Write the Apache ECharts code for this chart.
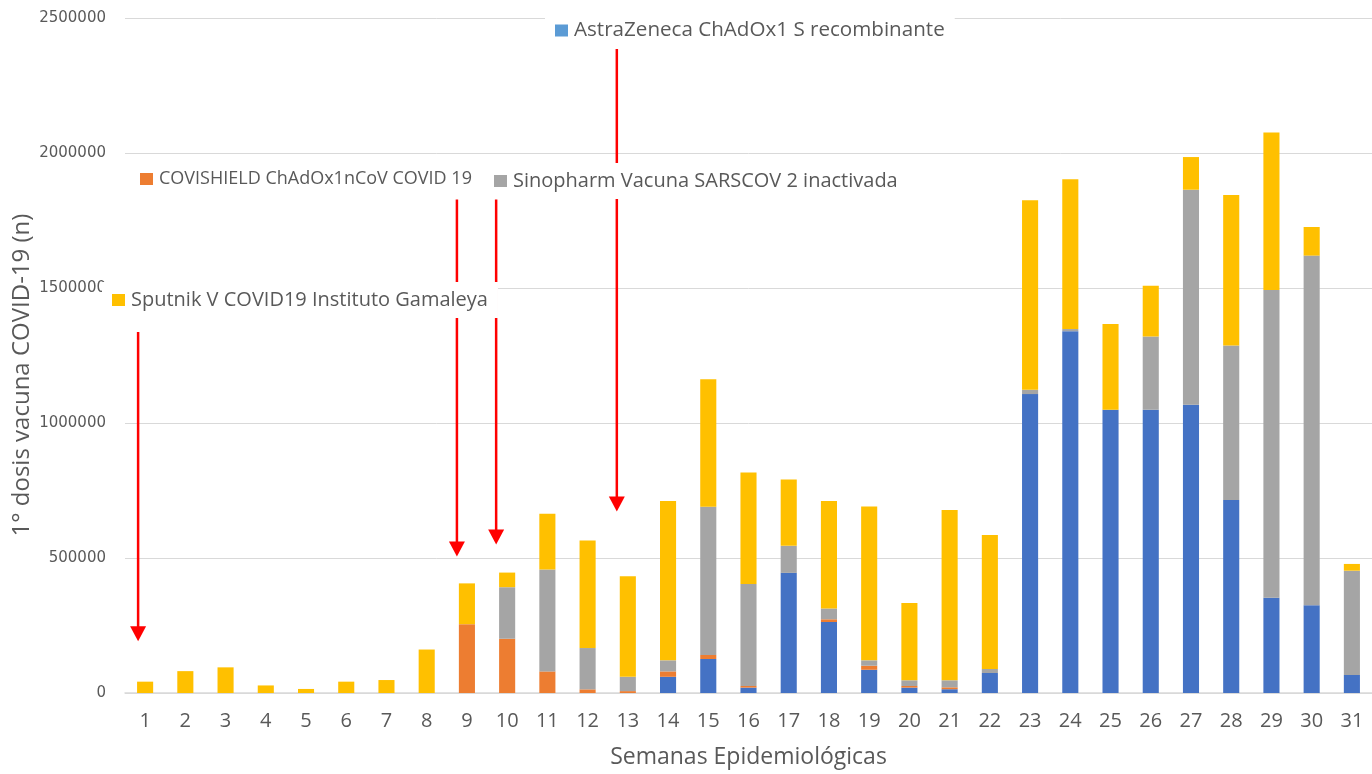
<!DOCTYPE html>
<html>
<head>
<meta charset="utf-8">
<script src="https://cdn.jsdelivr.net/npm/echarts@6/dist/echarts.min.js"></script>
<style>
  html, body { margin: 0; padding: 0; background: #ffffff; }
  #chart { width: 1372px; height: 774px; }
</style>
</head>
<body>
<div id="chart"></div>
<script>
// Epidemiological weeks
const weeks = ['1','2','3','4','5','6','7','8','9','10','11','12','13','14','15','16',
               '17','18','19','20','21','22','23','24','25','26','27','28','29','30','31'];

// First doses applied per week, by vaccine
const astrazeneca = [0,0,0,0,0,0,0,0,0,0,0,0,0,60000,126000,20000,
                     445000,263000,86000,20000,14000,74000,1107000,1340000,1049000,1049000,1068000,715000,353000,325000,67000];
const covishield  = [0,0,0,0,0,0,0,0,255000,201000,80000,13500,7000,20000,15000,6000,
                     0,10000,15000,6000,7000,0,0,0,0,0,0,0,0,0,0];
const sinopharm   = [0,0,0,0,0,0,0,0,0,191000,377000,153000,53000,41000,549000,378000,
                     100000,40000,20000,21000,26000,15000,16000,8000,0,271000,796000,572000,1140000,1295000,386000];
const sputnik     = [42000,81000,95000,28000,15000,42000,48000,161000,151000,54000,207000,398000,372000,590000,472000,413000,
                     246000,398000,570000,286000,631000,496000,702000,555000,318000,188000,121000,557000,583000,106000,25000];

const seriesNames = {
  astra: 'AstraZeneca ChAdOx1 S recombinante',
  covi: 'COVISHIELD ChAdOx1nCoV COVID 19',
  sino: 'Sinopharm Vacuna SARSCOV 2 inactivada',
  sput: 'Sputnik V COVID19 Instituto Gamaleya'
};

// Arrows marking the week each vaccine started: [week, from value, to value, x shift]
const startArrows = [
  ['1', 1337000, 192000, -7],
  ['9', 1828000, 506000, -10],
  ['10', 1828000, 550000, -11],
  ['13', 2393000, 672000, -11]
];

const TEXT = '#595959';
const GRID = '#D9D9D9';

const chart = echarts.init(document.getElementById('chart'), null, { renderer: 'canvas' });

function legendBox(name, left, top, color, size) {
  return {
    show: true,
    selectedMode: false,
    orient: 'horizontal',
    left: left,
    top: top,
    z: 10,
    padding: [8, 10, 8, 10],
    backgroundColor: '#ffffff',
    itemWidth: 13,
    itemHeight: 12,
    icon: 'rect',
    data: [{ name: name, itemStyle: { color: color } }],
    textStyle: { color: TEXT, fontSize: size, fontFamily: 'Open Sans', lineHeight: 20, padding: [0, 0, 0, 1] }
  };
}

const option = {
  backgroundColor: '#ffffff',
  animation: false,
  grid: { left: 125, top: 18, width: 1250, height: 677, containLabel: false },
  legend: [
    legendBox(seriesNames.sput, 102, 282, '#FFC000', 20),
    legendBox(seriesNames.covi, 130, 161, '#ED7D31', 18),
    legendBox(seriesNames.sino, 484, 163, '#A5A5A5', 20),
    legendBox(seriesNames.astra, 545, 12, '#5B9BD5', 20.6)
  ],
  xAxis: {
    type: 'category',
    data: weeks,
    name: 'Semanas Epidemiológicas',
    nameLocation: 'middle',
    nameGap: 53,
    nameTextStyle: { color: TEXT, fontSize: 23, fontFamily: 'Open Sans' },
    axisLine: { show: true, lineStyle: { color: GRID, width: 1.5 } },
    axisTick: { show: false },
    axisLabel: { color: TEXT, fontSize: 20, fontFamily: 'Open Sans', margin: 18, interval: 0 },
    splitLine: { show: false }
  },
  yAxis: {
    type: 'value',
    min: 0,
    max: 2500000,
    interval: 500000,
    axisLine: { show: false },
    axisTick: { show: false },
    axisLabel: {
      color: TEXT, fontSize: 15, fontFamily: 'DejaVu Sans', margin: 19,
      formatter: function (v) { return String(v); }
    },
    splitLine: { show: true, lineStyle: { color: GRID, width: 1 } }
  },
  series: [
    { name: seriesNames.astra, type: 'bar', stack: 'dosis', data: astrazeneca, barWidth: '40%',
      itemStyle: { color: '#4472C4' } },
    { name: seriesNames.covi, type: 'bar', stack: 'dosis', data: covishield, barWidth: '40%',
      itemStyle: { color: '#ED7D31' } },
    { name: seriesNames.sino, type: 'bar', stack: 'dosis', data: sinopharm, barWidth: '40%',
      itemStyle: { color: '#A5A5A5' } },
    { name: seriesNames.sput, type: 'bar', stack: 'dosis', data: sputnik, barWidth: '40%',
      itemStyle: { color: '#FFC000' } }
  ]
};

chart.setOption(option);

// Red start arrows and the rotated value-axis title
const elements = [];
const HEAD_H = 15, HEAD_W = 16;
startArrows.forEach(function (a) {
  const p0 = chart.convertToPixel({ gridIndex: 0 }, [a[0], a[1]]);
  const p1 = chart.convertToPixel({ gridIndex: 0 }, [a[0], a[2]]);
  const x = p0[0] + a[3];
  elements.push({
    type: 'line', z: 3,
    shape: { x1: x, y1: p0[1], x2: x, y2: p1[1] - HEAD_H + 1 },
    style: { stroke: '#FF0000', lineWidth: 2.5 }
  });
  elements.push({
    type: 'polygon', z: 3,
    shape: { points: [[x - HEAD_W / 2, p1[1] - HEAD_H], [x + HEAD_W / 2, p1[1] - HEAD_H], [x, p1[1]]] },
    style: { fill: '#FF0000' }
  });
});
elements.push({
  type: 'text', z: 3,
  x: 22, y: 375,
  rotation: Math.PI / 2,
  style: {
    text: '1° dosis vacuna COVID-19 (n)',
    fill: TEXT, fontSize: 24, fontFamily: 'Open Sans',
    align: 'center', verticalAlign: 'middle'
  }
});
chart.setOption({ graphic: { elements: elements } });
</script>
</body>
</html>
